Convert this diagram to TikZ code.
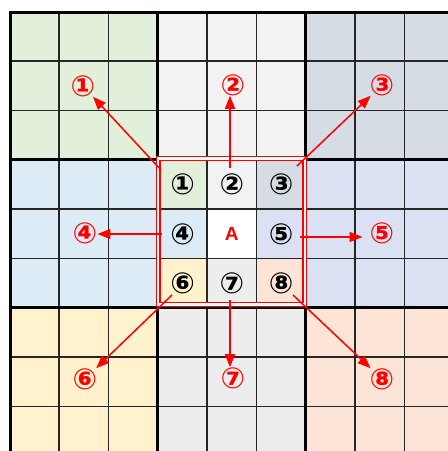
\documentclass[tikz,border=0pt]{standalone}
\usepackage{fontspec}
\setmainfont{Liberation Sans}
\newfontfamily\circfont{DejaVu Sans}
\usetikzlibrary{arrows.meta}
\definecolor{cgreen}{HTML}{E2EFDA}
\definecolor{cgrayA}{HTML}{F2F2F2}
\definecolor{cblgray}{HTML}{D6DCE4}
\definecolor{cblue}{HTML}{DDEBF7}
\definecolor{clav}{HTML}{D9E1F2}
\definecolor{cyel}{HTML}{FFF2CC}
\definecolor{cgrayB}{HTML}{EDEDED}
\definecolor{cpeach}{HTML}{FCE4D6}
\begin{document}
\begin{tikzpicture}[x=1pt,y=-1pt,
  thingrid/.style={line width=1.7pt, draw=black!85},
  thickgrid/.style={line width=3pt, draw=black},
  innum/.style={font=\circfont\bfseries\fontsize{29}{29}\selectfont, text=black, inner sep=0pt},
  outnum/.style={font=\circfont\bfseries\fontsize{29}{29}\selectfont, text=red, inner sep=0pt},
  redarrow/.style={draw=red, line width=1.5pt, -{Triangle[length=13pt,width=10pt]}},
  redbox/.style={draw=red, line width=1.3pt, double=white, double distance=2.4pt}]
\useasboundingbox (0,0) rectangle (448,451);
\def\cs{49.3}
\begin{scope}
\clip (0,0) rectangle (448,451);
% block fills
\foreach \c [count=\k from 0] in {cgreen,cgrayA,cblgray,cblue,white,clav,cyel,cgrayB,cpeach}{
  \pgfmathtruncatemacro\bx{mod(\k,3)}
  \pgfmathtruncatemacro\by{div(\k,3)}
  \fill[\c] ({10+3*\bx*\cs},{12+3*\by*\cs}) rectangle +({3*\cs},{3*\cs});
}
% centre block cells
\foreach \c [count=\k from 0] in {cgreen,cgrayA,cblgray,cblue,white,clav,cyel,cgrayB,cpeach}{
  \pgfmathtruncatemacro\bx{mod(\k,3)}
  \pgfmathtruncatemacro\by{div(\k,3)}
  \fill[\c] ({10+(3+\bx)*\cs},{12+(3+\by)*\cs}) rectangle +(\cs,\cs);
}
% thin grid
\foreach \i in {1,2,4,5,7,8}{
  \draw[thingrid] ({10+\i*\cs},12) -- ({10+\i*\cs},470);
  \draw[thingrid] (10,{12+\i*\cs}) -- (470,{12+\i*\cs});
}
% thick grid
\foreach \i in {0,3,6,9}{
  \draw[thickgrid] ({10+\i*\cs},{12-1.5}) -- ({10+\i*\cs},470);
  \draw[thickgrid] ({10-1.5},{12+\i*\cs}) -- (470,{12+\i*\cs});
}
\end{scope}
% red double box
\draw[redbox] (158.2,158.5) rectangle (304.7,304.3);
% inner numbers
\node[innum] (i1) at ({10+3.5*\cs},{12+3.5*\cs}) {①};
\node[innum] (i2) at ({10+4.5*\cs},{12+3.5*\cs}) {②};
\node[innum] (i3) at ({10+5.5*\cs},{12+3.5*\cs}) {③};
\node[innum] (i4) at ({10+3.5*\cs},{12+4.5*\cs}) {④};
\node[font=\bfseries\fontsize{19}{19}\selectfont, text=red, inner sep=0pt] (ca) at ({10+4.5*\cs},{12+4.5*\cs}) {A};
\node[innum] (i5) at ({10+5.5*\cs},{12+4.5*\cs}) {⑤};
\node[innum] (i6) at ({10+3.5*\cs},{12+5.5*\cs}) {⑥};
\node[innum] (i7) at ({10+4.5*\cs},{12+5.5*\cs}) {⑦};
\node[innum] (i8) at ({10+5.5*\cs},{12+5.5*\cs}) {⑧};
% outer numbers
\node[outnum] (o1) at (83,86) {①};
\node[outnum] (o2) at (233,85) {②};
\node[outnum] (o3) at (382,85) {③};
\node[outnum] (o4) at (85,233) {④};
\node[outnum] (o5) at (382,233) {⑤};
\node[outnum] (o6) at (85,379) {⑥};
\node[outnum] (o7) at (233,378) {⑦};
\node[outnum] (o8) at (382,379) {⑧};
% arrow starts
\coordinate (s1) at (161,170);
\coordinate (s2) at (230,168);
\coordinate (s3) at (297,166);
\coordinate (s4) at (162,234);
\coordinate (s5) at (300,237);
\coordinate (s6) at (172,295);
\coordinate (s7) at (230,300);
\coordinate (s8) at (293,295);
% arrows
\draw[redarrow] (s1) -- (o1);
\draw[redarrow] (s2) -- (s2 |- o2.south);
\draw[redarrow] (s3) -- (o3);
\draw[redarrow] (s4) -- (o4.east |- s4);
\draw[redarrow] (s5) -- ([xshift=-7pt]o5.west |- s5);
\draw[redarrow] (s6) -- (o6);
\draw[redarrow] (s7) -- (s7 |- o7.north);
\draw[redarrow] (s8) -- (o8);
\end{tikzpicture}
\end{document}
